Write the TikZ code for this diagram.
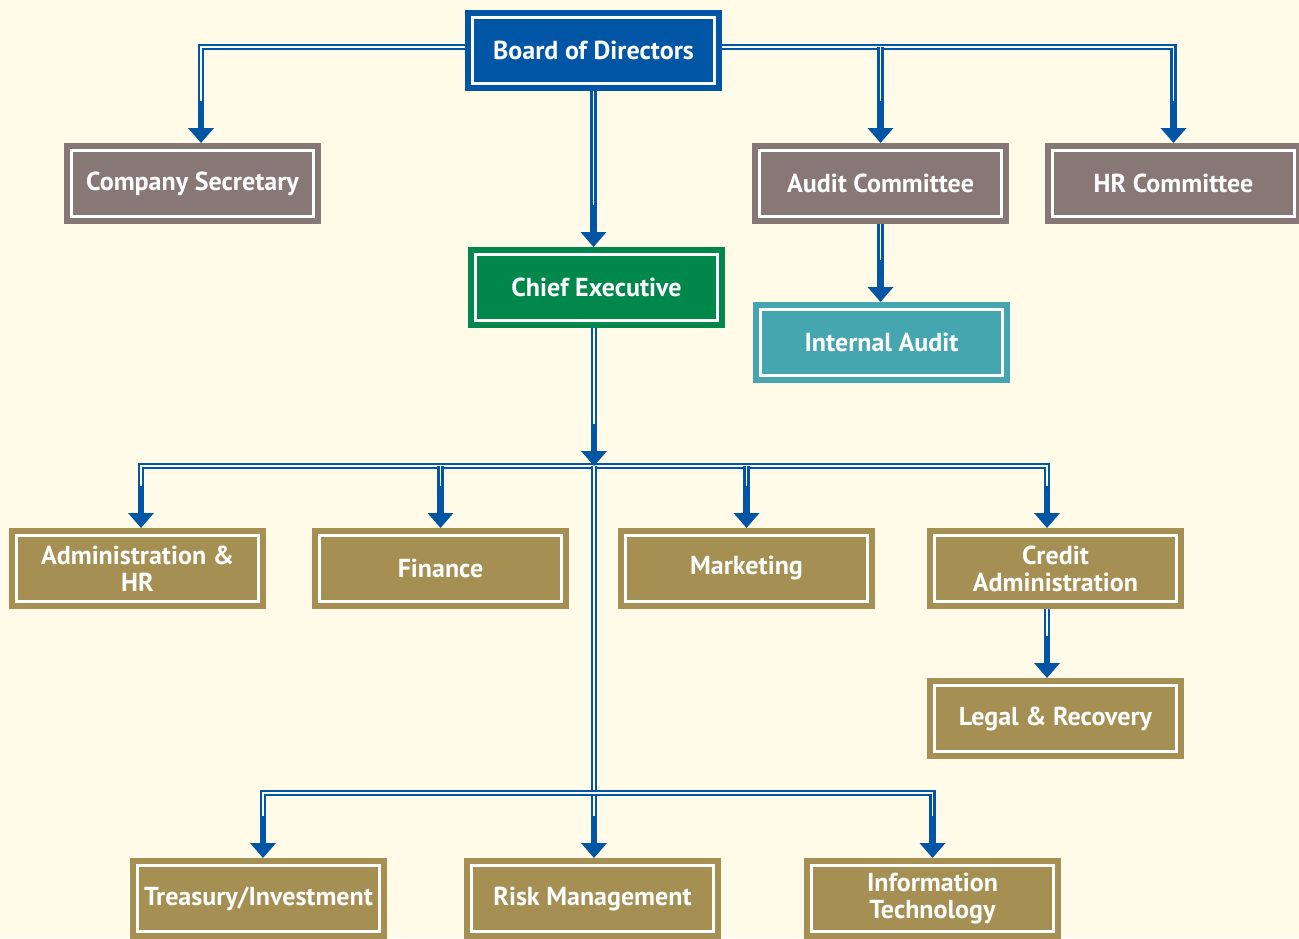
\documentclass[tikz,border=0pt]{standalone}
\usepackage{fontspec}
\setmainfont{PT Sans}
\usetikzlibrary{arrows.meta}
\definecolor{paper}{RGB}{255,251,232}
\definecolor{navy}{RGB}{0,85,165}
\definecolor{leaf}{RGB}{0,135,75}
\definecolor{lagoon}{RGB}{69,166,176}
\definecolor{taupe}{RGB}{135,120,118}
\definecolor{ochre}{RGB}{166,143,83}
\tikzset{
  unit/.style={fill=#1, draw=white, line width=3pt,
    preaction={draw=#1, line width=15pt},
    minimum width=242pt, minimum height=66pt, inner sep=0pt, outer sep=7.5pt,
    text=white, align=center, font=\bfseries\fontsize{26}{27}\selectfont},
  link/.style={draw=navy, line width=2.4pt, double=white, double distance=1.8pt},
  tip/.style={navy, line width=6.6pt, -{Triangle[width=25pt,length=15pt]}},
}

\begin{document}
\begin{tikzpicture}[x=1pt, y=-1pt]
	\fill[paper] (0,0) rectangle (1299,938);
	\useasboundingbox (0,0) rectangle (1299,938);
	%
	\node[unit=navy] (board) at (593.5,50.5) {Board of Directors};
	\node[unit=taupe] (sec) at (192.5,183.5) {Company Secretary};
	\node[unit=taupe] (aud) at (880.5,183.5) {Audit Committee};
	\node[unit=taupe] (hrc) at (1173.5,183.5) {HR Committee};
	\node[unit=leaf] (ceo) at (596.5,287.5) {Chief Executive};
	\node[unit=lagoon] (iau) at (881.5,342.5) {Internal Audit};
	\node[unit=ochre] (adm) at (137.5,568.5) {Administration \&\\HR};
	\node[unit=ochre] (fin) at (440.5,568.5) {Finance};
	\node[unit=ochre] (mkt) at (746.5,568.5) {Marketing};
	\node[unit=ochre] (cra) at (1055.5,568.5) {Credit\\Administration};
	\node[unit=ochre] (leg) at (1055.5,718.5) {Legal \& Recovery};
	\node[unit=ochre] (tre) at (258.5,898.5) {Treasury/Investment};
	\node[unit=ochre] (rsk) at (592.5,898.5) {Risk Management};
	\node[unit=ochre] (itc) at (932.5,898.5) {Information\\Technology};
	%
	\coordinate (hub) at (594,466);
	\coordinate (lowhub) at (594,793);
	\coordinate (boardw) at ([yshift=3.5pt]board.west);
	\coordinate (boarde) at ([yshift=3.5pt]board.east);
	\coordinate (secin) at ([xshift=8.5pt]sec.north);
	\coordinate (ceoin) at (board.south |- ceo.north);
	\coordinate (iauin) at (aud.south |- iau.north);
	\coordinate (admin) at ([xshift=3.5pt]adm.north);
	\coordinate (crain) at ([xshift=-8.5pt]cra.north);
	\coordinate (legin) at (crain |- leg.north);
	\coordinate (trein) at ([xshift=4.5pt]tre.north);
	\coordinate (rskin) at (hub |- rsk.north);
	%
	\draw[link, shorten <=20pt] (secin) |- (boardw);
	\draw[link, shorten >=20pt] (boarde) -| (hrc.north);
	\draw[link, shorten >=20pt] (boarde -| aud.north) -- (aud.north);
	\draw[link, shorten >=20pt] (board.south) -- (ceoin);
	\draw[link, shorten >=20pt] (aud.south) -- (iauin);
	\draw[link, shorten >=20pt] (hub |- ceo.south) -- (hub);
	\draw[link, shorten <=20pt, shorten >=20pt] (admin) |- (hub) -| (crain);
	\draw[link, shorten >=20pt] (fin.north |- hub) -- (fin.north);
	\draw[link, shorten >=20pt] (mkt.north |- hub) -- (mkt.north);
	\draw[link, shorten >=20pt] (crain |- cra.south) -- (legin);
	\draw[link, shorten >=20pt] (hub) -- (rskin);
	\draw[link, shorten <=20pt, shorten >=20pt] (trein) |- (lowhub) -| (itc.north);
	%
	\foreach \t in {secin, aud.north, hrc.north, ceoin, iauin, hub, admin,
	    fin.north, mkt.north, crain, legin, trein, rskin, itc.north}
		\draw[tip] (\t) ++(0,-42) -- (\t);
\end{tikzpicture}
\end{document}
